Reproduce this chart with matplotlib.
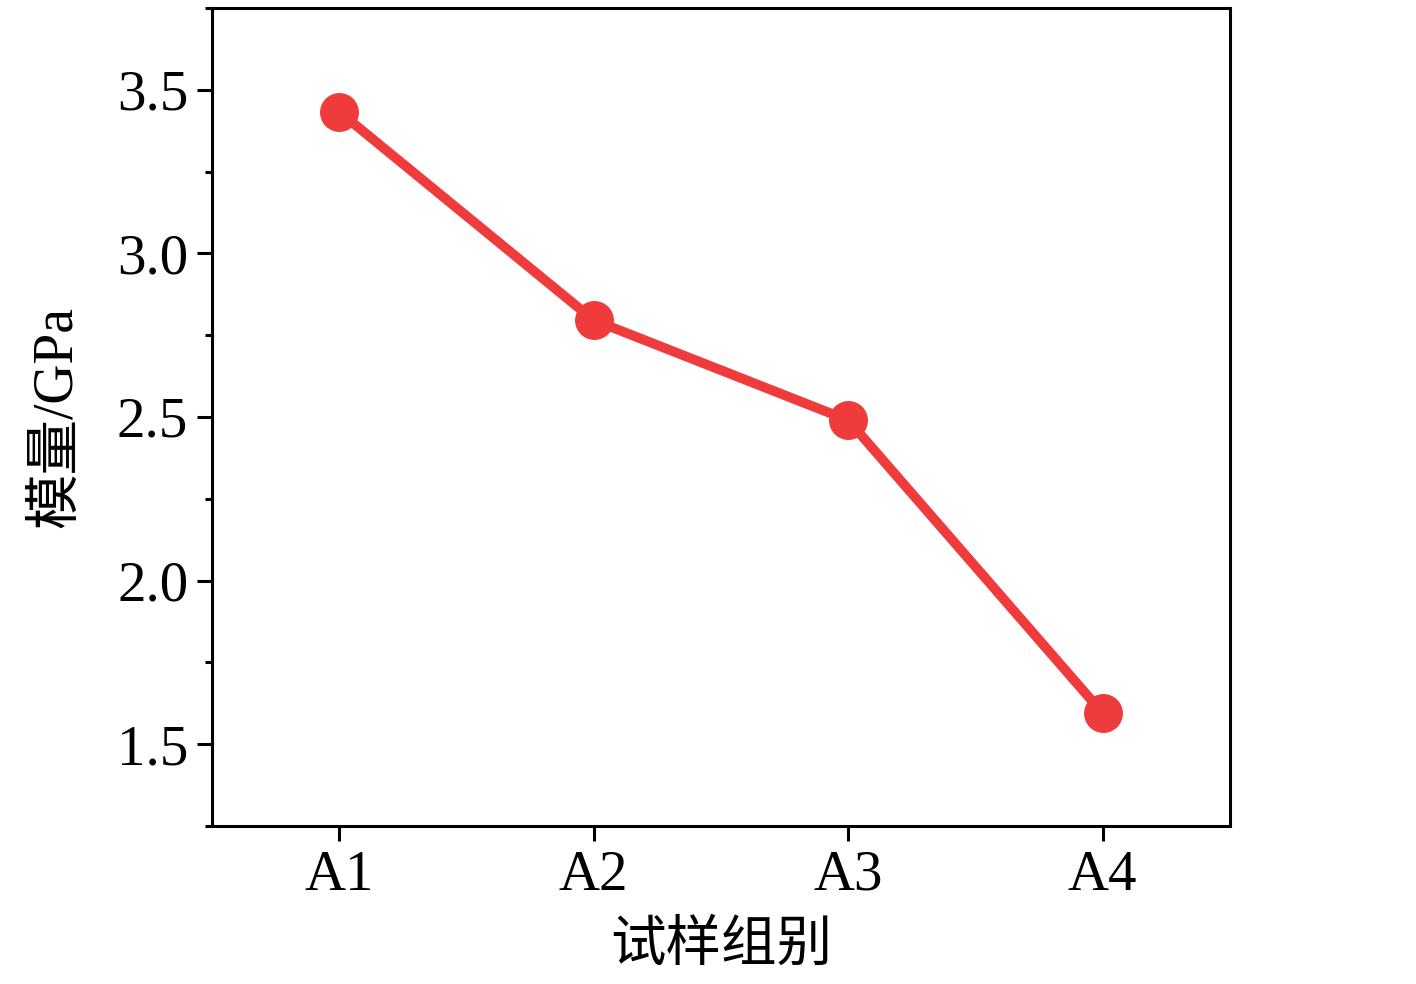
import matplotlib
matplotlib.use("Agg")
import matplotlib.pyplot as plt
from matplotlib.ticker import MultipleLocator, FormatStrFormatter

# data
groups = ["A1", "A2", "A3", "A4"]
modulus = [3.433, 2.796, 2.49, 1.595]

plt.rcParams['font.family'] = ['Liberation Serif', 'Noto Sans CJK SC']


def main():
    fig = plt.figure(figsize=(14.16, 9.84), dpi=100)
    ax = fig.add_axes([0.1497, 0.1606, 0.7189, 0.8313])

    x = list(range(1, len(groups) + 1))
    ax.plot(x, modulus, color="#EF3B3C", linewidth=7, marker="o",
            markersize=27, markerfacecolor="#EF3B3C", markeredgecolor="#EF3B3C")

    ax.set_xlim(0.5, 4.5)
    ax.set_ylim(1.25, 3.75)
    ax.set_xticks(x)
    ax.set_xticklabels(groups)
    ax.yaxis.set_major_locator(MultipleLocator(0.5))
    ax.yaxis.set_minor_locator(MultipleLocator(0.25))
    ax.yaxis.set_major_formatter(FormatStrFormatter("%.1f"))

    for s in ax.spines.values():
        s.set_linewidth(2.2)
    ax.tick_params(axis="both", which="major", direction="out", length=11, width=2.2,
                   labelsize=41, pad=6)
    ax.tick_params(axis="y", which="minor", direction="out", length=5, width=2.2)
    ax.tick_params(top=False, right=False, which="both")

    ax.set_xlabel("试样组别", fontsize=40, labelpad=14)
    ax.set_ylabel("模量/GPa", fontsize=40, labelpad=24)

    fig.savefig("out.png", dpi=100)


if __name__ == '__main__':
    main()
